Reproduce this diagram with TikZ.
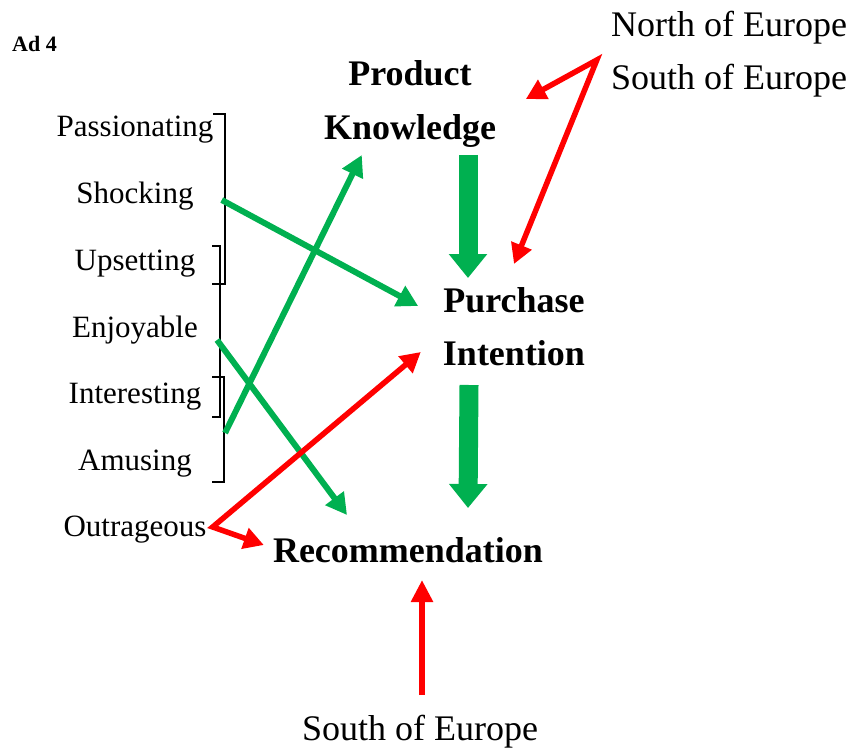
\documentclass[tikz,border=0pt]{standalone}
\usepackage{fontspec}
\setmainfont{Liberation Serif}
\usepackage{tikz}
\usetikzlibrary{arrows.meta}

\definecolor{effgreen}{HTML}{00B050}
\definecolor{effred}{HTML}{FF0000}

\tikzset{
  lbl/.style={font=\fontsize{31}{37}\selectfont, anchor=base, inner sep=0},
  concept/.style={font=\fontsize{36}{43}\selectfont\bfseries, anchor=base, inner sep=0},
  region/.style={font=\fontsize{36}{43}\selectfont, anchor=base, inner sep=0},
  posarrow/.style={draw=effgreen, line width=6pt, -{Triangle[width=22pt,length=21pt]}},
  negarrow/.style={draw=effred, line width=5.5pt, {Triangle[width=21pt,length=20pt]}-{Triangle[width=21pt,length=20pt]}},
  uparrow/.style={draw=effred, line width=5.5pt, -{Triangle[width=21pt,length=22pt]}},
  mainarrow/.style={draw=effgreen, line width=19pt, -{Triangle[width=37pt,length=24pt]}},
  bracket/.style={draw, line width=1.1pt},
}

\begin{document}
\begin{tikzpicture}[x=1pt, y=-1pt]

  \useasboundingbox (0,0) rectangle (861,751);

  % Title
  \node[font=\fontsize{22}{26}\selectfont\bfseries, anchor=base west, inner sep=0] (ad) at (12,52) {Ad 4};

  % Ad attributes
  \foreach \nm/\txt/\y in {pass/Passionating/137, shock/Shocking/204, upset/Upsetting/270,
                           enjoy/Enjoyable/337, inter/Interesting/403, amuse/Amusing/470,
                           outr/Outrageous/536} {
    \node[lbl] (\nm) at (135,\y) {\txt};
  }

  % Groupings
  \draw[bracket] (213,114) -| (225,284) -- (212,284);
  \draw[bracket] (212,246) -| (220,417) -- (212,417);
  \draw[bracket] (212,377) -| (224,482) -- (212,482);

  % Constructs
  \node[concept] (prod) at (410,86) {Product};
  \node[concept] (know) at (410,140) {Knowledge};
  \node[concept] (purch) at (514,312) {Purchase};
  \node[concept] (intent) at (514,365) {Intention};
  \node[concept] (rec) at (408,562) {Recommendation};

  % Moderating regions
  \node[region] (north) at (729,37) {North of Europe};
  \node[region] (south) at (729,90) {South of Europe};
  \node[region] (southb) at (420,740) {South of Europe};
  \coordinate (split) at ([xshift=-14pt,yshift=30pt]south.base west);

  % Main path
  \draw[mainarrow] ([xshift=58pt,yshift=-15pt]know.base) -- ([xshift=-46pt,yshift=34pt]purch.base);
  \draw[mainarrow] ([xshift=-45pt,yshift=-20pt]intent.base) -- ([xshift=60pt,yshift=54pt]rec.base);

  % Positive effects
  \draw[posarrow] ([xshift=28pt,yshift=4pt]shock.base east) -- ([xshift=-25pt,yshift=6pt]purch.base west);
  \draw[posarrow] ([xshift=19pt,yshift=-3pt]enjoy.base east) -- ([xshift=-61pt,yshift=47pt]rec.base);
  \draw[posarrow] ([xshift=33pt,yshift=37pt]amuse.base east) -- ([xshift=38pt,yshift=-15pt]know.base west);

  % Negative effects
  \draw[negarrow] ([xshift=-22pt,yshift=13pt]intent.base west) -- ([xshift=6pt,yshift=9pt]outr.base east)
                  -- ([xshift=-9pt,yshift=17pt]rec.base west);
  \draw[negarrow] ([xshift=54pt,yshift=-13pt]prod.base east) -- (split) -- ([yshift=48pt]purch.base);
  \draw[uparrow] ([xshift=2pt,yshift=45pt]southb.base) -- ([xshift=14pt,yshift=-18pt]rec.base);

\end{tikzpicture}
\end{document}
